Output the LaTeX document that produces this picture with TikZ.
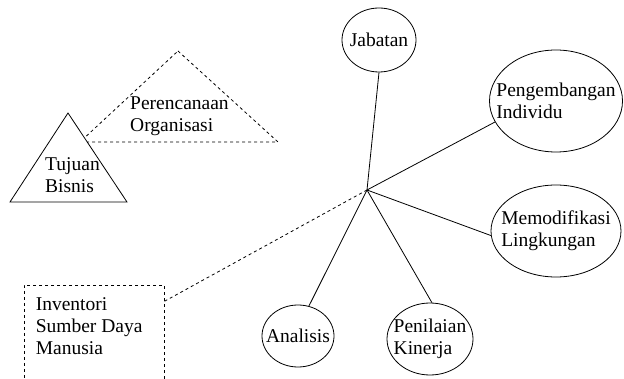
\documentclass[tikz,border=0pt]{standalone}
\usepackage{fontspec}
\setmainfont{Liberation Serif}
\usepackage{tikz}
\usetikzlibrary{shapes.geometric, positioning}
\newcommand{\lblfont}{\fontsize{19.5}{22}\selectfont}

\begin{document}
\begin{tikzpicture}[x=1pt, y=-1pt,
  bubble/.style={ellipse, draw, line width=0.8pt, inner ysep=0pt, align=left, font=\lblfont},
  txt/.style={inner sep=0pt, align=left, font=\lblfont},
  link/.style={draw, line width=0.8pt},
]
\useasboundingbox (0,0) rectangle (624,379);
\coordinate (hub) at (367,190);

\draw[dashed, line width=0.8pt] (178,51) -- (278,142) -- (80,142) -- cycle;
\draw[line width=0.8pt, fill=white] (68,113) -- (127,202) -- (10,202) -- cycle;
\node[txt, anchor=west] (tuj) at (45,175) {Tujuan\\Bisnis};
\node[txt, anchor=west] (ren) at (130,116) {Perencanaan\\Organisasi};

\node[draw, dashed, line width=0.8pt, minimum width=140pt, minimum height=110pt] (inv) at (94,340) {};
\node[txt, anchor=north west, below right=13pt and 12pt of inv.north west] (invtxt) {Inventori\\Sumber Daya\\Manusia};

\node[bubble, inner xsep=-4pt, minimum width=74pt, minimum height=64pt] (jab) at (379,40) {Jabatan};
\node[bubble, inner xsep=-13pt, minimum width=133pt, minimum height=102pt] (peng) at (556,101) {Pengembangan\\Individu};
\node[bubble, inner xsep=-10pt, minimum width=130pt, minimum height=92pt] (mod) at (556,231) {Memodifikasi\\Lingkungan};
\node[bubble, inner xsep=-7pt, minimum width=86pt, minimum height=72pt] (pen) at (430,339) {Penilaian\\Kinerja};
\node[bubble, inner xsep=-7pt, minimum width=72pt, minimum height=62pt] (ana) at (298,336) {Analisis};

\draw[link] (hub) -- (jab.south);
\draw[link] (hub) -- (peng.199);
\draw[link] (hub) -- (mod.184);
\draw[link] (hub) -- (pen.87);
\draw[link] (hub) -- (ana.70);
\draw[link, dashed] (hub) -- (inv);
\end{tikzpicture}
\end{document}
